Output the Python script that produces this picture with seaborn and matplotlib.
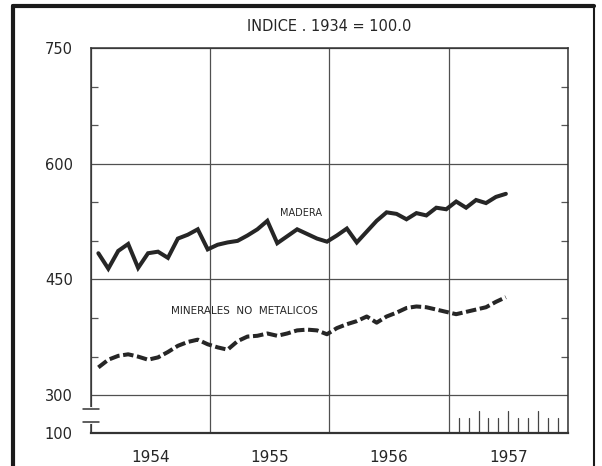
import numpy as np
import pandas as pd
import matplotlib
matplotlib.use("Agg")
import matplotlib.pyplot as plt
from matplotlib.lines import Line2D
import matplotlib.transforms as mtransforms
import seaborn as sns

# datos mensuales, enero 1954 - junio 1957 (indice 1934 = 100.0)
madera = [484, 464, 487, 496, 465, 484, 486, 478, 503, 508, 515, 489,
          495, 498, 500, 507, 515, 526, 497, 506, 515, 509, 503, 499,
          507, 516, 498, 512, 526, 537, 535, 528, 536, 533, 543, 541,
          551, 543, 553, 549, 557, 561]
minerales = [336, 346, 351, 353, 350, 346, 349, 356, 364, 369, 372, 366,
             362, 359, 370, 376, 377, 380, 377, 380, 384, 385, 384, 379,
             387, 392, 396, 402, 394, 402, 407, 413, 415, 414, 411, 408,
             405, 408, 411, 414, 421, 427]
anios = [1954, 1955, 1956, 1957]
yticks = [100, 300, 450, 600, 750]
yminor = [350, 400, 500, 550, 650, 700]

# posicion de cada mes en años decimales
x = anios[0] + (np.arange(len(madera)) + 0.75) / 12
df = pd.DataFrame({"fecha": x, "madera": madera, "minerales": minerales})

# escala con el tramo 100-300 comprimido (eje cortado)
k = 0.245
def fwd(v):
    v = np.asarray(v, dtype=float)
    return np.where(v >= 300, v, 300 - (300 - v) * k)
def inv(u):
    u = np.asarray(u, dtype=float)
    return np.where(u >= 300, u, 300 - (300 - u) / k)

sns.set_theme(style="white")
plt.rcParams["font.family"] = ["DejaVu Sans"]

fig = plt.figure(figsize=(6.02, 4.66), dpi=100)
ax = fig.add_axes([0.151, 0.0708, 0.7925, 0.8262])
ink = "#262626"

sns.lineplot(data=df, x="fecha", y="madera", ax=ax, color=ink, lw=2.9,
             solid_joinstyle="miter")
sns.lineplot(data=df, x="fecha", y="minerales", ax=ax, color=ink, lw=2.9,
             linestyle=(0, (2.6, 0.9)))

ax.set_yscale("function", functions=(fwd, inv))
ax.set_ylim(100, 750)
ax.set_xlim(anios[0], anios[-1] + 1)

ax.set_yticks(yticks)
ax.set_yticklabels([str(t) for t in yticks])
ax.yaxis.set_minor_locator(matplotlib.ticker.FixedLocator(yminor))
ax.tick_params(axis="y", which="major", length=0, pad=13, labelsize=10.5,
               labelcolor=ink)
ax.tick_params(axis="y", which="minor", left=True, right=True,
               direction="in", length=5, width=0.9, color="#555555")

ax.set_xticks(anios + [anios[-1] + 1])
ax.set_xticklabels([])
ax.set_xticks([a + 0.5 for a in anios], minor=True)
ax.set_xticklabels([str(a) for a in anios], minor=True)
ax.tick_params(axis="x", which="both", length=0)
ax.tick_params(axis="x", which="minor", pad=12, labelsize=11, labelcolor=ink)

ax.grid(True, which="major", color="#505050", lw=0.9)
ax.set_xlabel("")
ax.set_ylabel("")
for s in ax.spines.values():
    s.set_color("#333333")
    s.set_linewidth(1.1)
ax.spines["bottom"].set_linewidth(1.6)

# marcas mensuales de 1957 sobre el eje inferior
meses = [anios[-1] + m / 12 for m in range(1, 12)]
alturas = [0.057 if m % 3 == 0 else 0.039 for m in range(1, 12)]
xtr = ax.get_xaxis_transform()
for xm, h in zip(meses, alturas):
    ax.plot([xm, xm], [0, h], color="#444444", lw=0.9, transform=xtr)

# corte del eje vertical
ytr = mtransforms.blended_transform_factory(ax.transAxes, ax.transData)
ax.plot([0, 0], [158, 227], color="white", lw=3, transform=ytr,
        clip_on=False, zorder=6)
for yb in (158, 227):
    ax.plot([-0.016, 0.016], [yb, yb], color="#333333", lw=1.1,
            transform=ytr, clip_on=False, zorder=7)

ax.set_title("INDICE . 1934 = 100.0", fontsize=10.5, color=ink, pad=12)
ax.text(1955.76, 536, "MADERA", fontsize=7, color=ink,
        ha="center", va="center")
ax.text(1955.29, 409, "MINERALES  NO  METALICOS", fontsize=7.5, color=ink,
        ha="center", va="center")

# marco exterior
for xs, ys, w in (([0.0216, 0.0216], [0.987, -0.1], 3),
                  ([0.0216, 0.9867], [0.987, 0.987], 3),
                  ([0.9867, 0.9867], [0.987, -0.1], 1.5)):
    fig.add_artist(Line2D(xs, ys, color="#1a1a1a", lw=w))

fig.savefig("out.png", dpi=100)
